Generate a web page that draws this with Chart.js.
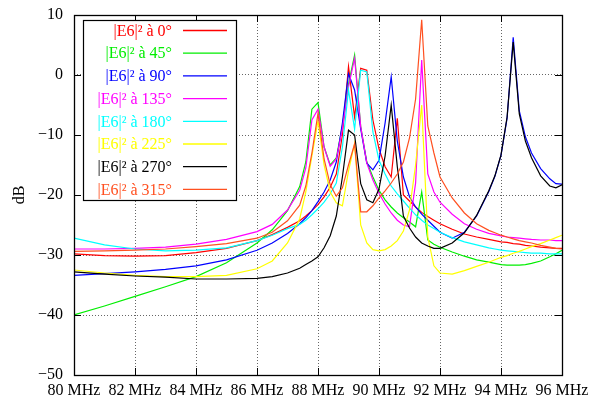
<!DOCTYPE html>
<html>
<head>
<meta charset="utf-8">
<script src="https://cdn.jsdelivr.net/npm/chart.js@4"></script>
<style>
  html, body { margin: 0; padding: 0; background: #fff; }
  canvas { display: block; }
</style>
</head>
<body>
<canvas id="chart" width="592" height="403"></canvas>
<script>
// frequency samples (MHz)
var freqMHz = [
  80, 81, 82, 83, 84, 85, 86, 86.5, 87, 87.4, 87.6, 87.8,
  88.0, 88.2, 88.4, 88.6, 88.8, 89.0, 89.2, 89.4, 89.6, 89.8, 90.0, 90.2,
  90.4, 90.6, 90.8, 91.0, 91.2, 91.4, 91.6, 91.8, 92.0, 92.4, 92.8, 93.2,
  93.6, 93.8, 94.0, 94.2, 94.4, 94.6, 94.8, 95.0, 95.3, 95.6, 95.8, 96.0
];

// |E6|^2 in dB for each orientation
var e6_0 = [
  -29.8, -30.1, -30.2, -30.1, -29.6, -28.9, -27.6, -26.6, -25.4, -24.3, -23.5, -22.6,
  -21.6, -20.3, -18.7, -16.5, -10.0, 1.4, -7.0, 1.1, 0.8, -7.5, -12.3, -15.3,
  -17.0, -7.2, -20.0, -21.0, -22.0, -22.9, -23.6, -24.2, -24.8, -25.7, -26.5, -27.0,
  -27.4, -27.6, -27.8, -27.9, -28.1, -28.2, -28.4, -28.5, -28.7, -28.8, -28.9, -28.9
];
var e6_45 = [
  -40.0, -38.5, -36.9, -35.3, -33.6, -31.3, -28.0, -25.8, -22.6, -18.6, -14.5, -5.7,
  -4.6, -12.0, -15.0, -13.8, -8.5, -1.5, 3.3, -8.6, -14.5, -17.0, -19.2, -20.8,
  -22.0, -23.0, -23.8, -24.5, -25.3, -19.5, -27.5, -28.2, -28.7, -29.5, -30.2, -30.8,
  -31.2, -31.4, -31.6, -31.7, -31.7, -31.7, -31.6, -31.4, -31.0, -30.3, -29.8, -29.2
];
var e6_90 = [
  -33.4, -33.1, -32.8, -32.4, -31.8, -30.8, -29.2, -28.0, -26.4, -24.8, -23.8, -22.6,
  -21.1, -19.5, -17.5, -14.5, -8.0, 0.2, -2.5, -9.0, -14.7, -15.8, -14.2, -8.0,
  -0.3, -11.0, -17.0, -20.3, -22.0, -23.2, -24.2, -25.2, -26.2, -27.2, -26.2, -23.5,
  -19.4, -16.9, -13.4, -7.2, 6.3, -6.0, -10.3, -13.0, -15.6, -17.3, -18.1, -18.2
];
var e6_135 = [
  -29.0, -29.0, -28.9, -28.7, -28.2, -27.4, -26.1, -24.9, -22.5, -19.2, -15.5, -7.5,
  -5.7, -12.0, -15.2, -14.0, -9.0, -2.0, 2.8, -8.6, -14.7, -17.5, -19.7, -21.5,
  -23.0, -24.2, -25.0, -25.3, -18.0, 2.5, -16.5, -19.5, -21.2, -23.2, -24.8, -25.7,
  -26.4, -26.6, -26.8, -27.0, -27.1, -27.2, -27.3, -27.4, -27.5, -27.5, -27.6, -27.6
];
var e6_180 = [
  -27.2, -28.3, -29.0, -29.3, -29.2, -28.8, -27.6, -26.7, -25.6, -24.9, -24.2, -23.3,
  -22.3, -21.2, -19.8, -18.0, -12.0, -2.5, -9.0, 0.8, 0.5, -9.5, -14.2, -16.5,
  -18.5, -19.8, -21.0, -22.2, -23.3, -24.2, -25.0, -25.6, -26.2, -27.1, -27.8, -28.3,
  -28.8, -29.0, -29.2, -29.3, -29.4, -29.5, -29.6, -29.7, -29.7, -29.8, -29.8, -29.8
];
var e6_225 = [
  -32.5, -33.0, -33.4, -33.6, -33.6, -33.4, -32.3, -31.0, -28.0, -24.0, -19.5, -13.5,
  -7.6, -15.0, -19.5, -21.3, -21.8, -16.0, -11.4, -25.0, -28.0, -29.1, -29.3, -29.1,
  -28.5, -27.6, -26.0, -22.5, -15.0, -5.0, -27.0, -31.8, -33.0, -33.2, -32.6, -31.9,
  -31.2, -30.8, -30.4, -30.1, -29.7, -29.4, -29.0, -28.6, -28.1, -27.5, -27.1, -26.7
];
var e6_270 = [
  -32.8, -33.2, -33.5, -33.7, -34.0, -34.0, -33.9, -33.6, -33.0, -32.2, -31.6, -31.0,
  -30.3, -28.8, -26.8, -23.5, -17.0, -9.2, -10.0, -18.1, -20.8, -21.3, -19.0, -13.5,
  -5.0, -15.3, -23.5, -25.5, -27.0, -28.0, -28.5, -28.9, -28.9, -28.0, -26.3, -23.4,
  -19.3, -16.8, -13.3, -7.0, 5.5, -6.5, -11.0, -13.8, -16.8, -18.5, -18.8, -18.3
];
var e6_315 = [
  -29.4, -29.3, -29.2, -29.0, -28.6, -28.1, -27.2, -26.2, -24.3, -21.7, -18.5, -13.0,
  -6.4, -14.0, -18.3, -20.2, -18.8, -15.0, -11.5, -22.8, -22.8, -21.8, -20.5, -19.3,
  -18.0, -16.5, -14.5, -10.5, -4.0, 9.2, -8.5, -13.0, -17.0, -20.5, -23.0, -24.8,
  -25.9, -26.3, -26.7, -27.0, -27.3, -27.6, -27.8, -28.0, -28.4, -28.7, -28.9, -29.0
];

var seriesLabels = [
  '|E6|² à 0°', '|E6|² à 45°', '|E6|² à 90°', '|E6|² à 135°',
  '|E6|² à 180°', '|E6|² à 225°', '|E6|² à 270°', '|E6|² à 315°'
];
var seriesValues = [e6_0, e6_45, e6_90, e6_135, e6_180, e6_225, e6_270, e6_315];
var seriesColors = ['#ff0000', '#00ee00', '#0000ff', '#ff00ff', '#00ffff', '#ffff00', '#000000', '#ff5020'];

var xTicks = [80, 82, 84, 86, 88, 90, 92, 94, 96];
var yTicks = [10, 0, -10, -20, -30, -40, -50];

Chart.defaults.font.family = '"Liberation Serif", "Times New Roman", serif';
Chart.defaults.font.size = 16;
Chart.defaults.color = '#000';

// gnuplot-like frame with inward tick marks on all four sides
var frameTicks = {
  id: 'frameTicks',
  afterDatasetsDraw: function(chart) {
    var ctx = chart.ctx;
    var a = chart.chartArea;
    var xs = chart.scales.x, ys = chart.scales.y;
    ctx.save();
    ctx.strokeStyle = '#000';
    ctx.lineWidth = 1;
    ctx.beginPath();
    yTicks.forEach(function(v) {
      var py = Math.round(ys.getPixelForValue(v)) + 0.5;
      ctx.moveTo(a.left, py); ctx.lineTo(a.left + 7, py);
      ctx.moveTo(a.right, py); ctx.lineTo(a.right - 7, py);
    });
    xTicks.forEach(function(v) {
      var px = Math.round(xs.getPixelForValue(v)) + 0.5;
      ctx.moveTo(px, a.bottom); ctx.lineTo(px, a.bottom - 7);
      ctx.moveTo(px, a.top); ctx.lineTo(px, a.top + 7);
    });
    ctx.stroke();
    ctx.lineWidth = 1.3;
    ctx.strokeRect(a.left + 0.5, a.top + 0.5, a.right - a.left, a.bottom - a.top);
    ctx.restore();
  }
};

// legend box: right-aligned coloured labels with a line sample
var legendBox = {
  id: 'legendBox',
  afterDatasetsDraw: function(chart) {
    var ctx = chart.ctx;
    ctx.save();
    ctx.fillStyle = '#fff';
    ctx.fillRect(83.5, 20.5, 153, 180);
    ctx.strokeStyle = '#000';
    ctx.lineWidth = 1.2;
    ctx.strokeRect(83.5, 20.5, 153, 180);
    ctx.font = '16px "Liberation Serif", serif';
    ctx.textAlign = 'right';
    ctx.textBaseline = 'middle';
    chart.data.datasets.forEach(function(ds, i) {
      var y = 30.5 + i * 22.7;
      ctx.fillStyle = ds.borderColor;
      ctx.fillText(ds.label, 172, y + 1);
      ctx.strokeStyle = ds.borderColor;
      ctx.lineWidth = 1.3;
      ctx.beginPath();
      ctx.moveTo(183, y);
      ctx.lineTo(227, y);
      ctx.stroke();
    });
    ctx.restore();
  }
};

var datasets = seriesValues.map(function(vals, i) {
  return {
    label: seriesLabels[i],
    data: freqMHz.map(function(f, k) { return { x: f, y: vals[k] }; }),
    borderColor: seriesColors[i],
    backgroundColor: seriesColors[i],
    borderWidth: 1.2,
    pointRadius: 0,
    tension: 0,
    fill: false,
    order: seriesValues.length - i   // later curves on top, like gnuplot
  };
});

new Chart(document.getElementById('chart').getContext('2d'), {
  type: 'line',
  data: { datasets: datasets },
  options: {
    responsive: false,
    animation: false,
    devicePixelRatio: 1,
    layout: { padding: { left: 0, top: 15, right: 30, bottom: 0 } },
    plugins: {
      legend: { display: false },
      tooltip: { enabled: false }
    },
    scales: {
      x: {
        type: 'linear',
        min: 80,
        max: 96,
        afterFit: function(scale) {
          // fixed axis height, no extra room for the end labels
          scale.height = 28;
          scale.paddingLeft = 0;
          scale.paddingRight = 0;
        },
        afterBuildTicks: function(scale) {
          scale.ticks = xTicks.map(function(v) { return { value: v }; });
        },
        ticks: {
          padding: 6,
          maxRotation: 0,
          autoSkip: false,
          callback: function(v) { return v + ' MHz'; }
        },
        grid: { color: 'rgba(0,0,0,0.6)', lineWidth: 1, drawTicks: false },
        border: { display: false, dash: [1, 2] }
      },
      y: {
        min: -50,
        max: 10,
        afterFit: function(scale) {
          scale.width = 74;
          scale.paddingTop = 0;
          scale.paddingBottom = 0;
        },
        afterBuildTicks: function(scale) {
          scale.ticks = yTicks.map(function(v) { return { value: v }; });
        },
        ticks: {
          padding: 11,
          callback: function(v) { return v < 0 ? '\u2212' + Math.abs(v) : String(v); }
        },
        title: { display: true, text: 'dB', padding: 10 },
        grid: { color: 'rgba(0,0,0,0.6)', lineWidth: 1, drawTicks: false },
        border: { display: false, dash: [1, 2] }
      }
    }
  },
  plugins: [frameTicks, legendBox]
});
</script>
</body>
</html>
